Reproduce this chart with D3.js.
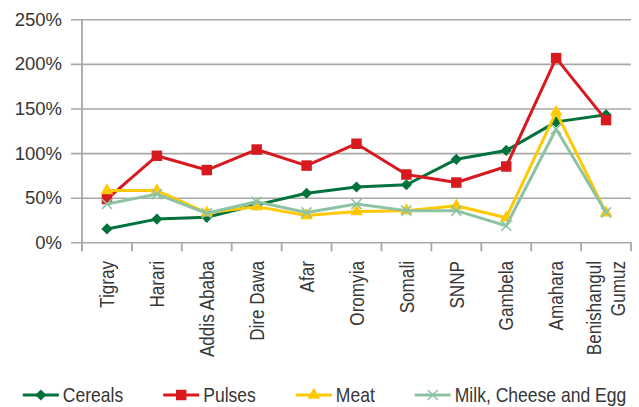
<!DOCTYPE html>
<html>
<head>
<meta charset="utf-8">
<script src="https://cdn.jsdelivr.net/npm/d3@7"></script>
<style>
  body { margin: 0; background: #fff; }
  svg { display: block; }
</style>
</head>
<body>
<svg id="chart" width="639" height="407"></svg>
<script>
// Regions and price change (%) per food group
const regions = ["Tigray", "Harari", "Addis Ababa", "Dire Dawa", "Afar", "Oromyia",
                 "Somali", "SNNP", "Gambela", "Amahara", "Benishangul Gumuz"];
const cereals = [15, 26, 28, 42, 55, 62, 64.5, 93, 103, 135, 143];
const pulses  = [48.5, 97, 81, 104, 86, 110.5, 76, 67, 85, 206.5, 137];
const meat    = [58, 58, 33, 40, 30, 34.5, 35.5, 41, 27.5, 146, 33];
const milk    = [43, 54, 32.5, 45.5, 33.5, 43, 35.5, 35.5, 18.5, 127, 33.5];
const yTicks  = [0, 50, 100, 150, 200, 250];

const seriesNames = ["Cereals", "Pulses", "Meat", "Milk, Cheese and Egg"];
const seriesValues = [cereals, pulses, meat, milk];

const colors  = ["#00723b", "#d71920", "#ffc800", "#8dc3a3"];
const markers = ["diamond", "square", "triangle", "cross"];

const svg = d3.select("#chart");
const plotLeft = 82, plotRight = 631, plotTop = 19.3, plotBottom = 242.3;
const textColor = "#363636";
const gridColor = "#a8a8a8";
const baseFont = "'Liberation Sans', Arial, sans-serif";
const narrow = 0.835;   // horizontal squeeze for the condensed lettering

const x = d3.scaleBand().domain(regions).range([plotLeft, plotRight]);
const y = d3.scaleLinear().domain([0, 250]).range([plotBottom, plotTop]);

// Horizontal gridlines + y labels
const yAxis = d3.axisLeft(y)
  .tickValues(yTicks)
  .tickFormat(d => d + "%")
  .tickSizeInner(-(plotRight - 71))
  .tickSizeOuter(0)
  .tickPadding(9);

const gy = svg.append("g").attr("transform", "translate(71,0)").call(yAxis);
gy.select(".domain").remove();
gy.selectAll(".tick line").attr("stroke", gridColor).attr("stroke-width", 1.6);
gy.selectAll(".tick text")
  .attr("fill", textColor)
  .style("font-family", baseFont)
  .style("font-size", "18.5px");

// Vertical axis line
svg.append("line")
  .attr("x1", plotLeft).attr("x2", plotLeft)
  .attr("y1", plotTop).attr("y2", plotBottom + 9)
  .attr("stroke", gridColor).attr("stroke-width", 1.8);

// Category boundary ticks
const bounds = regions.map(r => x(r)).concat([plotRight]);
svg.append("g").selectAll("line").data(bounds).join("line")
  .attr("x1", d => d).attr("x2", d => d)
  .attr("y1", plotBottom).attr("y2", plotBottom + 9)
  .attr("stroke", gridColor).attr("stroke-width", 1.8);

// Rotated category labels
const labels = svg.append("g").selectAll("text").data(regions).join("text")
  .attr("transform", d => `translate(${x(d) + x.bandwidth() / 2},261) rotate(-90) scale(${narrow},1)`)
  .attr("text-anchor", "end")
  .attr("fill", textColor)
  .style("font-family", baseFont)
  .style("font-size", "20.5px");

labels.each(function (d) {
  const words = d === "Benishangul Gumuz" ? ["Benishangul", "Gumuz"] : [d];
  const t = d3.select(this);
  const lh = 1.18;
  words.forEach((w, i) => {
    t.append("tspan")
      .attr("x", 0)
      .attr("dy", i === 0 ? (0.35 - (words.length - 1) * lh / 2) + "em" : lh + "em")
      .text(w);
  });
});

// Marker shapes
function markerPath(kind) {
  if (kind === "diamond") return d3.symbol(d3.symbolSquare, 62)();
  if (kind === "square") return d3.symbol(d3.symbolSquare, 110)();
  if (kind === "triangle") return d3.symbol(d3.symbolTriangle, 70)();
  return "M-5,-5L5,5M-5,5L5,-5";
}
function drawMarker(g, kind, color) {
  const p = g.append("path").attr("d", markerPath(kind));
  if (kind === "cross") {
    p.attr("fill", "none").attr("stroke", color).attr("stroke-width", 1.6);
  } else {
    p.attr("fill", color);
    if (kind === "diamond") p.attr("transform", "rotate(45)");
  }
}

const line = d3.line()
  .x((d, i) => x(regions[i]) + x.bandwidth() / 2)
  .y(d => y(d));

seriesValues.forEach((vals, si) => {
  const g = svg.append("g");
  g.append("path")
    .datum(vals)
    .attr("d", line)
    .attr("fill", "none")
    .attr("stroke", colors[si])
    .attr("stroke-width", 3)
    .attr("stroke-linejoin", "round");
  vals.forEach((v, i) => {
    const mg = g.append("g")
      .attr("transform", `translate(${x(regions[i]) + x.bandwidth() / 2},${y(v)})`);
    drawMarker(mg, markers[si], colors[si]);
  });
});

// Legend
const legend = svg.append("g");
const legendY = 395;
let cursor = 0;
seriesNames.forEach((name, si) => {
  const g = legend.append("g");
  g.append("line")
    .attr("x1", 0).attr("x2", 36)
    .attr("y1", 0).attr("y2", 0)
    .attr("stroke", colors[si]).attr("stroke-width", 3);
  const mg = g.append("g").attr("transform", "translate(18,0)");
  drawMarker(mg, markers[si], colors[si]);
  const t = g.append("text")
    .attr("transform", `translate(40,0) scale(${narrow},1)`)
    .attr("dy", "0.35em")
    .attr("fill", textColor)
    .style("font-family", baseFont)
    .style("font-size", "21px")
    .text(name);
  const w = 40 + t.node().getComputedTextLength() * narrow;
  g.attr("transform", `translate(${cursor},0)`);
  cursor += w + 40;
});
const totalW = cursor - 40;
legend.attr("transform", `translate(${324.5 - totalW / 2},${legendY})`);
</script>
</body>
</html>
